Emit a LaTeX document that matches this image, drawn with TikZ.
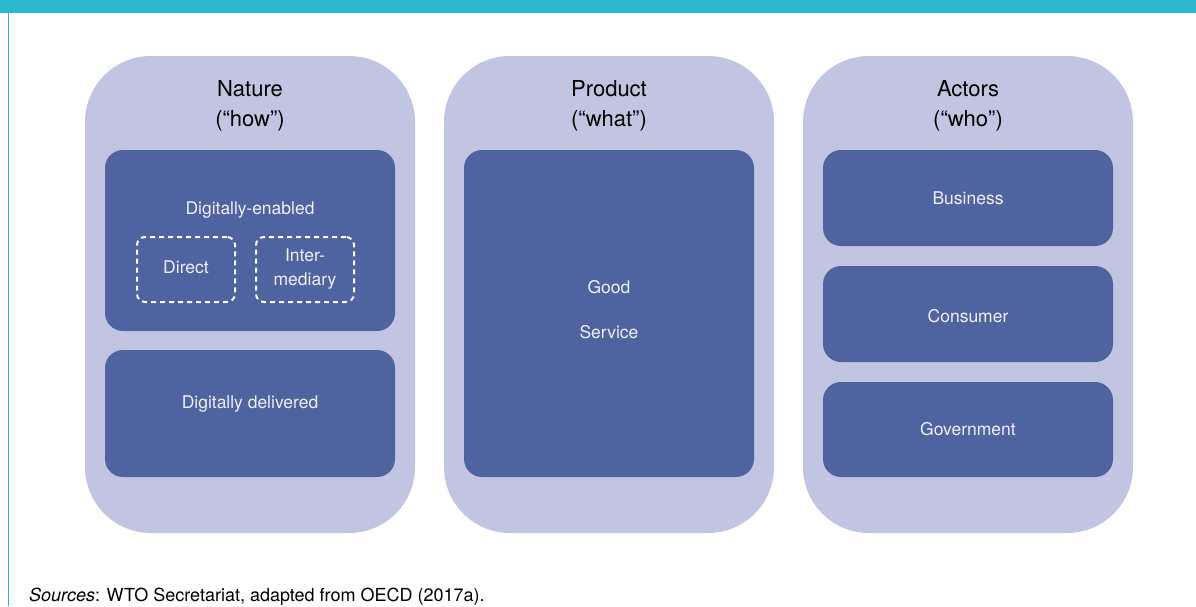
\documentclass[tikz,border=0pt]{standalone}
\usepackage{fontspec}
\setmainfont{TeX Gyre Heros}
\definecolor{teal}{HTML}{2BB8CF}
\definecolor{outerc}{HTML}{C2C5E1}
\definecolor{innerc}{HTML}{4F63A0}
\definecolor{itext}{HTML}{EEF0F8}
\begin{document}
\begin{tikzpicture}[x=1pt,y=-1pt,
  outerbox/.style={fill=outerc,draw=none,rounded corners=66pt,minimum width=330pt,minimum height=477pt,inner sep=0pt},
  innerbox/.style={fill=innerc,draw=none,rounded corners=18pt,minimum width=290pt,inner sep=0pt},
  dashbox/.style={draw=white,line width=2pt,dash pattern=on 5pt off 4pt,rounded corners=8pt,minimum width=98pt,minimum height=65pt,inner sep=0pt},
  title/.style={align=center,font=\fontsize{22}{30}\selectfont,text=black},
  itxt/.style={text=itext,font=\fontsize{17.5}{24}\selectfont,align=center,inner sep=0pt}]
\useasboundingbox (0,0) rectangle (1196,606);
\fill[teal] (0,0) rectangle (1196,13);
\draw[teal,line width=1.5pt] (8.5,13) -- (8.5,606);
% outer
\node[outerbox] (nat) at (250,294.5) {};
\node[outerbox] (prod) at (609,294.5) {};
\node[outerbox] (act) at (968,294.5) {};
\node[title] (natt) at (250,106) {Nature\\(“how”)};
\node[title] (prodt) at (609,106) {Product\\(“what”)};
\node[title] (actt) at (968,106) {Actors\\(“who”)};
% nature inner
\node[innerbox,minimum height=181pt] (den) at (250,240.5) {};
\node[innerbox,minimum height=127pt] (ddel) at (250,413.5) {};
\node[itxt] (dent) at (250,210) {Digitally-enabled};
\node[dashbox] (dir) at (186,269.5) {};
\node[dashbox] (inter) at (305,269.5) {};
\node[itxt] (dirt) at (186,267) {Direct};
\node[itxt] (intert) at (305,269) {Inter-\\mediary};
\node[itxt] (ddelt) at (250,404) {Digitally delivered};
% product inner
\node[innerbox,minimum height=327pt] (pin) at (609,313.5) {};
\node[itxt] (good) at (609,287) {Good};
\node[itxt] (serv) at (609,332) {Service};
% actors inner
\node[innerbox,minimum height=96pt] (bus) at (968,198) {};
\node[innerbox,minimum height=96pt] (con) at (968,314) {};
\node[innerbox,minimum height=95pt] (gov) at (968,429.5) {};
\node[itxt] (bust) at (968,198) {Business};
\node[itxt] (cont) at (968,316) {Consumer};
\node[itxt] (govt) at (968,429) {Government};
% source
\node[anchor=base west,inner sep=0pt,font=\fontsize{18}{22}\selectfont] (src) at (29,601) {\textit{Sources}: WTO Secretariat, adapted from OECD (2017a).};
\end{tikzpicture}
\end{document}
